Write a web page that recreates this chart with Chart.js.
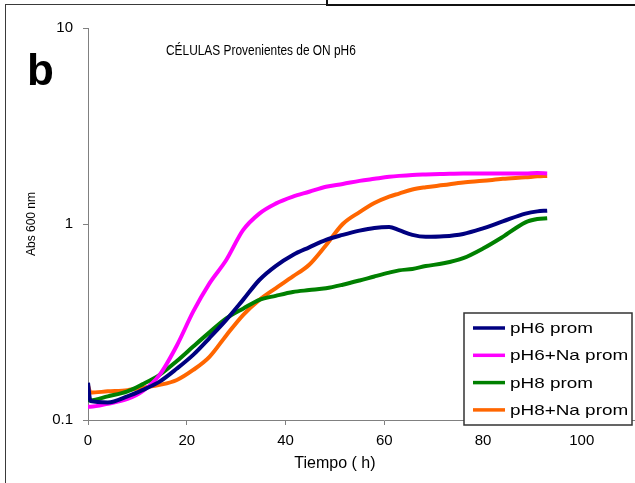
<!DOCTYPE html>
<html>
<head>
<meta charset="utf-8">
<script src="https://cdn.jsdelivr.net/npm/chart.js@4/dist/chart.umd.min.js"></script>
<style>
  html, body { margin: 0; padding: 0; width: 635px; height: 483px; overflow: hidden; background: #fff; }
  #wrap { position: absolute; left: 0; top: 0; width: 700px; height: 483px; }
  #frame { position: absolute; left: 5px; top: 4px; width: 800px; height: 600px;
           border-left: 1.5px solid #3a3a3a; border-top: 1.5px solid #3a3a3a; }
  #topbox { position: absolute; left: 326px; top: -10px; width: 400px; height: 12px;
            border: 2px solid #111; background: #fff; }
</style>
</head>
<body>
<div id="frame"></div>
<div id="topbox"></div>
<div id="wrap"><canvas id="c" width="700" height="483"></canvas></div>
<script>
// ---- data ----
const timeH   = [0, 0.5, 4, 8, 11, 14.5, 18, 21.3, 24.6, 28, 31.4, 34.7, 38, 41.5, 44.8, 48.2, 51.6, 55, 58, 61, 63, 65.7, 68.4, 72, 76, 80, 84, 88.6, 91, 93];
const pH6     = [0.155, 0.125, 0.123, 0.132, 0.142, 0.157, 0.183, 0.215, 0.262, 0.324, 0.41, 0.518, 0.61, 0.695, 0.76, 0.83, 0.88, 0.925, 0.955, 0.965, 0.93, 0.88, 0.86, 0.865, 0.89, 0.95, 1.03, 1.13, 1.16, 1.17];
const pH6Na   = [0.117, 0.117, 0.121, 0.128, 0.14, 0.17, 0.24, 0.357, 0.498, 0.655, 0.93, 1.13, 1.27, 1.38, 1.46, 1.55, 1.6, 1.66, 1.7, 1.74, 1.76, 1.78, 1.79, 1.8, 1.81, 1.81, 1.81, 1.81, 1.82, 1.81];
const pH8     = [0.126, 0.126, 0.132, 0.14, 0.152, 0.17, 0.2, 0.237, 0.28, 0.33, 0.37, 0.41, 0.43, 0.45, 0.46, 0.47, 0.49, 0.515, 0.54, 0.565, 0.58, 0.59, 0.61, 0.63, 0.67, 0.75, 0.86, 1.02, 1.06, 1.07];
const pH8Na   = [0.15, 0.138, 0.14, 0.142, 0.146, 0.151, 0.16, 0.18, 0.21, 0.27, 0.343, 0.41, 0.47, 0.54, 0.62, 0.78, 1.0, 1.15, 1.28, 1.38, 1.43, 1.5, 1.54, 1.58, 1.63, 1.66, 1.7, 1.73, 1.75, 1.76];
const seriesNames = ['pH6 prom', 'pH6+Na prom', 'pH8 prom', 'pH8+Na prom'];
const seriesColors = ['#000080', '#FF00FF', '#008000', '#FF6600'];
const yTicks = [0.1, 1, 10];
const xTicks = [0, 20, 40, 60, 80, 100, 120];
const chartTitle = 'CÉLULAS Provenientes de ON pH6';
const panelLetter = 'b';
const xTitle = 'Tiempo ( h)';
const yTitle = 'Abs 600 nm';

const allSeries = [pH6, pH6Na, pH8, pH8Na];
const datasets = allSeries.map((arr, i) => ({
  label: seriesNames[i],
  data: timeH.map((t, j) => ({ x: t, y: arr[j] })),
  borderColor: seriesColors[i],
  backgroundColor: seriesColors[i],
  borderWidth: 4,
  pointRadius: 0,
  cubicInterpolationMode: 'monotone',
  fill: false
}));

function stretchText(ctx, text, x, y, sx) {
  ctx.save();
  ctx.translate(x, y);
  ctx.scale(sx, 1);
  ctx.fillText(text, 0, 0);
  ctx.restore();
}

const decor = {
  id: 'decor',
  afterDraw(chart) {
    const ctx = chart.ctx;
    const xs = chart.scales.x;
    ctx.save();
    ctx.fillStyle = '#000';
    // panel letter
    ctx.font = 'bold 44px "Liberation Sans", Arial, sans-serif';
    ctx.textBaseline = 'alphabetic';
    ctx.textAlign = 'left';
    ctx.fillText(panelLetter, 27, 85);
    // title
    ctx.font = '14px "Liberation Sans", Arial, sans-serif';
    stretchText(ctx, chartTitle, 166, 55, 0.85);
    // x title
    ctx.font = '16px "Liberation Sans", Arial, sans-serif';
    ctx.textAlign = 'center';
    ctx.textBaseline = 'middle';
    ctx.fillText(xTitle, xs.getPixelForValue(50), 464);
    // legend
    const lx = 464, ly = 313, lw = 168, lh = 112;
    ctx.fillStyle = '#fff';
    ctx.fillRect(lx, ly, lw, lh);
    ctx.strokeStyle = '#333';
    ctx.lineWidth = 1.5;
    ctx.strokeRect(lx, ly, lw, lh);
    ctx.textAlign = 'left';
    ctx.textBaseline = 'middle';
    ctx.font = '15px "Liberation Sans", Arial, sans-serif';
    seriesNames.forEach((name, i) => {
      const yy = ly + 15 + i * 27.3;
      ctx.strokeStyle = seriesColors[i];
      ctx.lineWidth = 3.5;
      ctx.beginPath();
      ctx.moveTo(lx + 9, yy);
      ctx.lineTo(lx + 41, yy);
      ctx.stroke();
      ctx.fillStyle = '#000';
      stretchText(ctx, name, lx + 46, yy + 1, 1.26);
    });
    ctx.restore();
  }
};

new Chart(document.getElementById('c'), {
  type: 'line',
  data: { datasets },
  plugins: [decor],
  options: {
    responsive: false,
    animation: false,
    layout: { padding: { left: 0, top: 28, right: 18, bottom: 0 } },
    plugins: { legend: { display: false }, title: { display: false }, tooltip: { enabled: false } },
    scales: {
      x: {
        type: 'linear',
        min: 0, max: 120,
        afterBuildTicks: s => { s.ticks = xTicks.map(v => ({ value: v })); },
        afterFit: s => { s.height = 63; },
        grid: { drawOnChartArea: false, drawTicks: true, tickLength: 5, color: '#808080' },
        border: { display: true, color: '#808080', width: 1 },
        ticks: { color: '#000', font: { family: '"Liberation Sans", Arial, sans-serif', size: 15 }, padding: 7, maxRotation: 0 }
      },
      y: {
        type: 'logarithmic',
        min: 0.1, max: 10,
        afterBuildTicks: s => { s.ticks = yTicks.map(v => ({ value: v })); },
        afterFit: s => { s.width = 88; },
        grid: { drawOnChartArea: false, drawTicks: true, tickLength: 5, color: '#808080' },
        border: { display: true, color: '#808080', width: 1 },
        ticks: { color: '#000', font: { family: '"Liberation Sans", Arial, sans-serif', size: 15 }, padding: 10,
                 callback: v => String(v) },
        title: { display: true, text: yTitle, color: '#000',
                 font: { family: '"Liberation Sans", Arial, sans-serif', size: 12 }, padding: { top: 24, bottom: 0 } }
      }
    }
  }
});
</script>
</body>
</html>
